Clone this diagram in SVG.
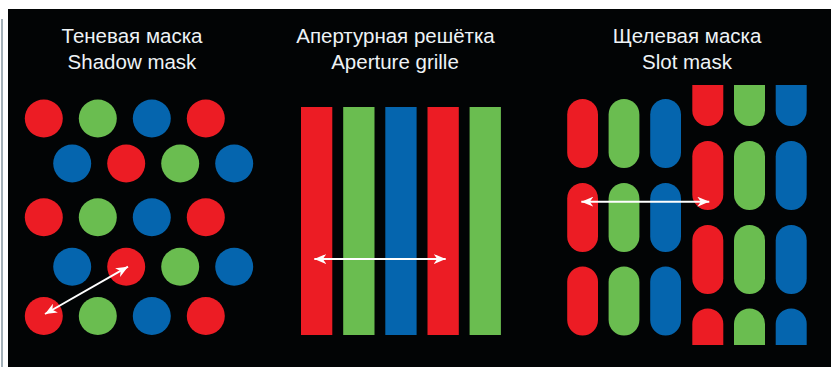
<svg xmlns="http://www.w3.org/2000/svg" width="831" height="367" viewBox="0 0 831 367">
<style>
.t{font-family:"Liberation Sans",Arial,sans-serif;font-size:20.5px;fill:#eef3f6;text-anchor:middle}
.r{fill:#ec1c24}
.g{fill:#6abd50}
.b{fill:#0565ae}
.arr{stroke:#ffffff;stroke-width:2;fill:none;marker-start:url(#ah);marker-end:url(#ah)}
</style>
<defs>
<marker id="ah" viewBox="0 0 12 10" markerWidth="12" markerHeight="10" refX="12" refY="5" orient="auto-start-reverse" markerUnits="userSpaceOnUse">
<path d="M0,0 L12,5 L0,10 L3.5,5 z" fill="#ffffff"/>
</marker>
<clipPath id="rc"><rect x="680" y="85" width="140" height="260"/></clipPath>
</defs>
<rect x="0" y="0" width="831" height="367" fill="#ffffff"/>
<rect x="1" y="19" width="2" height="348" fill="#a3b0b8"/>
<rect x="8" y="9" width="823" height="358" fill="#020405"/>

<g id="shadow-mask">
<text class="t" x="132" y="43">Теневая маска</text>
<text class="t" x="132" y="69">Shadow mask</text>
<circle class="r" cx="43.8" cy="118.5" r="19"/>
<circle class="g" cx="97.8" cy="118.5" r="19"/>
<circle class="b" cx="151.8" cy="118.5" r="19"/>
<circle class="r" cx="205.8" cy="118.5" r="19"/>
<circle class="b" cx="72.2" cy="163.5" r="19"/>
<circle class="r" cx="126.2" cy="163.5" r="19"/>
<circle class="g" cx="180.2" cy="163.5" r="19"/>
<circle class="b" cx="234.2" cy="163.5" r="19"/>
<circle class="r" cx="43.8" cy="217.3" r="19"/>
<circle class="g" cx="97.8" cy="217.3" r="19"/>
<circle class="b" cx="151.8" cy="217.3" r="19"/>
<circle class="r" cx="205.8" cy="217.3" r="19"/>
<circle class="b" cx="72.2" cy="266.7" r="19"/>
<circle class="r" cx="126.2" cy="266.7" r="19"/>
<circle class="g" cx="180.2" cy="266.7" r="19"/>
<circle class="b" cx="234.2" cy="266.7" r="19"/>
<circle class="r" cx="43.8" cy="316" r="19"/>
<circle class="g" cx="97.8" cy="316" r="19"/>
<circle class="b" cx="151.8" cy="316" r="19"/>
<circle class="r" cx="205.8" cy="316" r="19"/>
</g>

<g id="aperture-grille">
<text class="t" x="395.5" y="43">Апертурная решётка</text>
<text class="t" x="395" y="69">Aperture grille</text>
<rect class="r" x="301" y="107" width="31.3" height="228"/>
<rect class="g" x="343.2" y="107" width="31.3" height="228"/>
<rect class="b" x="385.3" y="107" width="31.3" height="228"/>
<rect class="r" x="427.5" y="107" width="31.3" height="228"/>
<rect class="g" x="469.6" y="107" width="31.3" height="228"/>
</g>

<g id="slot-mask">
<text class="t" x="687" y="43">Щелевая маска</text>
<text class="t" x="687" y="69">Slot mask</text>
<rect class="r" x="567.2" y="99" width="30.8" height="69" rx="15.4"/>
<rect class="g" x="608.6" y="99" width="30.8" height="69" rx="15.4"/>
<rect class="b" x="650.2" y="99" width="30.8" height="69" rx="15.4"/>
<rect class="r" x="567.2" y="183" width="30.8" height="69" rx="15.4"/>
<rect class="g" x="608.6" y="183" width="30.8" height="69" rx="15.4"/>
<rect class="b" x="650.2" y="183" width="30.8" height="69" rx="15.4"/>
<rect class="r" x="567.2" y="266.5" width="30.8" height="69" rx="15.4"/>
<rect class="g" x="608.6" y="266.5" width="30.8" height="69" rx="15.4"/>
<rect class="b" x="650.2" y="266.5" width="30.8" height="69" rx="15.4"/>
<g clip-path="url(#rc)">
<rect class="r" x="692.3" y="57" width="31" height="69" rx="15.5"/>
<rect class="g" x="734" y="57" width="31" height="69" rx="15.5"/>
<rect class="b" x="775.7" y="57" width="31" height="69" rx="15.5"/>
<rect class="r" x="692.3" y="141" width="31" height="69" rx="15.5"/>
<rect class="g" x="734" y="141" width="31" height="69" rx="15.5"/>
<rect class="b" x="775.7" y="141" width="31" height="69" rx="15.5"/>
<rect class="r" x="692.3" y="225" width="31" height="69" rx="15.5"/>
<rect class="g" x="734" y="225" width="31" height="69" rx="15.5"/>
<rect class="b" x="775.7" y="225" width="31" height="69" rx="15.5"/>
<rect class="r" x="692.3" y="308.5" width="31" height="69" rx="15.5"/>
<rect class="g" x="734" y="308.5" width="31" height="69" rx="15.5"/>
<rect class="b" x="775.7" y="308.5" width="31" height="69" rx="15.5"/>
</g>
</g>

<g id="connectors">
<line class="arr" x1="45" y1="314" x2="128" y2="266.7"/>
<line class="arr" x1="314.3" y1="259" x2="445.7" y2="259"/>
<line class="arr" x1="581.3" y1="201.7" x2="709.3" y2="201.7"/>
</g>
</svg>
